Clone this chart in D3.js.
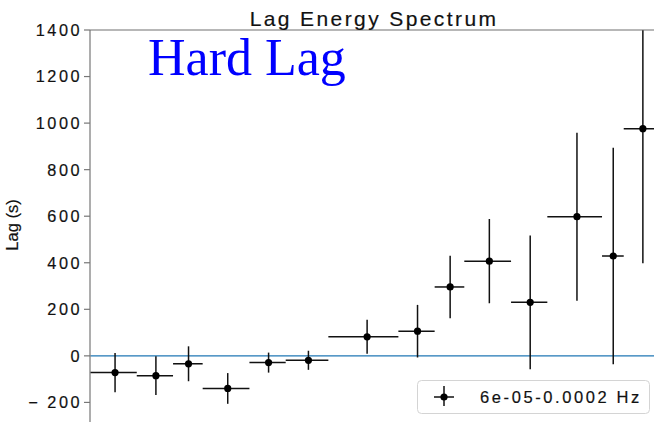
<!DOCTYPE html>
<html>
<head>
<meta charset="utf-8">
<script src="https://cdn.jsdelivr.net/npm/d3@7"></script>
<style>
  html, body { margin: 0; padding: 0; background: #fff; }
  svg { display: block; }
  text.sans { stroke: #111; stroke-width: 0.18px; }
</style>
</head>
<body>
<svg id="chart" width="654" height="422"></svg>
<script>
// Energy bins (keV): lower and upper edges
const binLo = [0.3, 0.4, 0.5, 0.6, 0.8, 1.0, 1.3, 2.0, 2.5, 3.0, 4.0, 5.0, 7.0, 8.0];
const binHi = [0.4, 0.5, 0.6, 0.8, 1.0, 1.3, 2.0, 2.5, 3.0, 4.0, 5.0, 7.0, 8.0, 10.0];
// Lag per bin (s) and its 1-sigma error
const lagValues = [-72, -85, -34, -140, -29, -19, 82, 106, 296, 407, 230, 598, 429, 976];
const lagErrors = [84, 83, 75, 66, 43, 41, 73, 113, 134, 181, 287, 361, 465, 578];
const yTicks = [-200, 0, 200, 400, 600, 800, 1000, 1200, 1400];
const legendLabel = "6e-05-0.0002 Hz";

(function () {
const svg = d3.select("#chart");
const plotL = 90, plotR = 660, plotT = 30, plotB = 435;

const x = d3.scaleLog().domain([0.3, 10]).range([plotL, plotR]);
const y = d3.scaleLinear().domain([-340, 1400]).range([plotB, plotT]);

const sansFont = "'Liberation Sans', Arial, Helvetica, sans-serif";

svg.append("defs").append("clipPath").attr("id", "plotArea")
  .append("rect").attr("x", plotL).attr("y", plotT)
  .attr("width", plotR - plotL).attr("height", plotB - plotT);

// zero reference line
svg.append("line")
  .attr("x1", plotL).attr("x2", plotR)
  .attr("y1", y(0)).attr("y2", y(0))
  .attr("stroke", "#1f77b4").attr("stroke-width", 1.4);

// error bars and points
const pts = binLo.map((lo, i) => ({
  lo, hi: binHi[i], c: (lo + binHi[i]) / 2, v: lagValues[i], e: lagErrors[i]
}));
const g = svg.append("g").attr("clip-path", "url(#plotArea)");
const bars = g.selectAll("g.pt").data(pts).join("g").attr("class", "pt");
bars.append("line")
  .attr("x1", d => x(d.lo)).attr("x2", d => x(d.hi))
  .attr("y1", d => y(d.v)).attr("y2", d => y(d.v))
  .attr("stroke", "#111").attr("stroke-width", 1.5);
bars.append("line")
  .attr("x1", d => x(d.c)).attr("x2", d => x(d.c))
  .attr("y1", d => y(d.v - d.e)).attr("y2", d => y(d.v + d.e))
  .attr("stroke", "#111").attr("stroke-width", 1.5);
bars.append("circle")
  .attr("cx", d => x(d.c)).attr("cy", d => y(d.v)).attr("r", 3.6)
  .attr("fill", "#000");

// spines
svg.append("line").attr("x1", plotL).attr("x2", plotL).attr("y1", plotT).attr("y2", plotB)
  .attr("stroke", "#8a8a8a").attr("stroke-width", 1.4);
svg.append("line").attr("x1", plotL).attr("x2", plotR).attr("y1", plotT).attr("y2", plotT)
  .attr("stroke", "#707070").attr("stroke-width", 1.2);

// y axis ticks and labels
const yAxis = svg.append("g");
yAxis.selectAll("line.tick").data(yTicks).join("line")
  .attr("class", "tick")
  .attr("x1", plotL - 6).attr("x2", plotL)
  .attr("y1", d => y(d)).attr("y2", d => y(d))
  .attr("stroke", "#777").attr("stroke-width", 1.2);
yAxis.selectAll("text").data(yTicks).join("text")
  .attr("class", "sans")
  .attr("x", plotL - 8).attr("y", d => y(d))
  .attr("dy", "0.36em")
  .attr("text-anchor", "end")
  .attr("font-family", sansFont).attr("font-size", 16.3)
  .attr("letter-spacing", "2.5px")
  .attr("fill", "#111")
  .text(d => d < 0 ? "\u2212 " + Math.abs(d) : String(d));

// axis label
svg.append("text")
  .attr("class", "sans")
  .attr("transform", "translate(18, 225) rotate(-90)")
  .attr("text-anchor", "middle")
  .attr("font-family", sansFont).attr("font-size", 16.5)
  .attr("fill", "#111")
  .text("Lag (s)");

// title
svg.append("text")
  .attr("class", "sans")
  .attr("x", 374).attr("y", 26)
  .attr("text-anchor", "middle")
  .attr("font-family", sansFont).attr("font-size", 21)
  .attr("letter-spacing", "2.4px")
  .attr("fill", "#111")
  .text("Lag Energy Spectrum");

// annotation
svg.append("text")
  .attr("x", 148).attr("y", 75)
  .attr("font-family", "'Liberation Serif', 'Times New Roman', serif")
  .attr("font-size", 52)
  .attr("fill", "#0000ff")
  .text("Hard Lag");

// legend
const lg = svg.append("g");
lg.append("rect")
  .attr("x", 417.5).attr("y", 380.5).attr("width", 232).attr("height", 33)
  .attr("rx", 4).attr("fill", "#fff").attr("fill-opacity", 0.8)
  .attr("stroke", "#d4d4d4").attr("stroke-width", 1);
lg.append("line").attr("x1", 434).attr("x2", 454).attr("y1", 397).attr("y2", 397)
  .attr("stroke", "#111").attr("stroke-width", 1.5);
lg.append("line").attr("x1", 444).attr("x2", 444).attr("y1", 386).attr("y2", 406)
  .attr("stroke", "#111").attr("stroke-width", 1.5);
lg.append("circle").attr("cx", 444).attr("cy", 397).attr("r", 3.6).attr("fill", "#000");
lg.append("text")
  .attr("class", "sans")
  .attr("x", 480).attr("y", 402.5)
  .attr("font-family", sansFont).attr("font-size", 16.5)
  .attr("letter-spacing", "2.6px")
  .attr("fill", "#111")
  .text(legendLabel);
})();
</script>
</body>
</html>
